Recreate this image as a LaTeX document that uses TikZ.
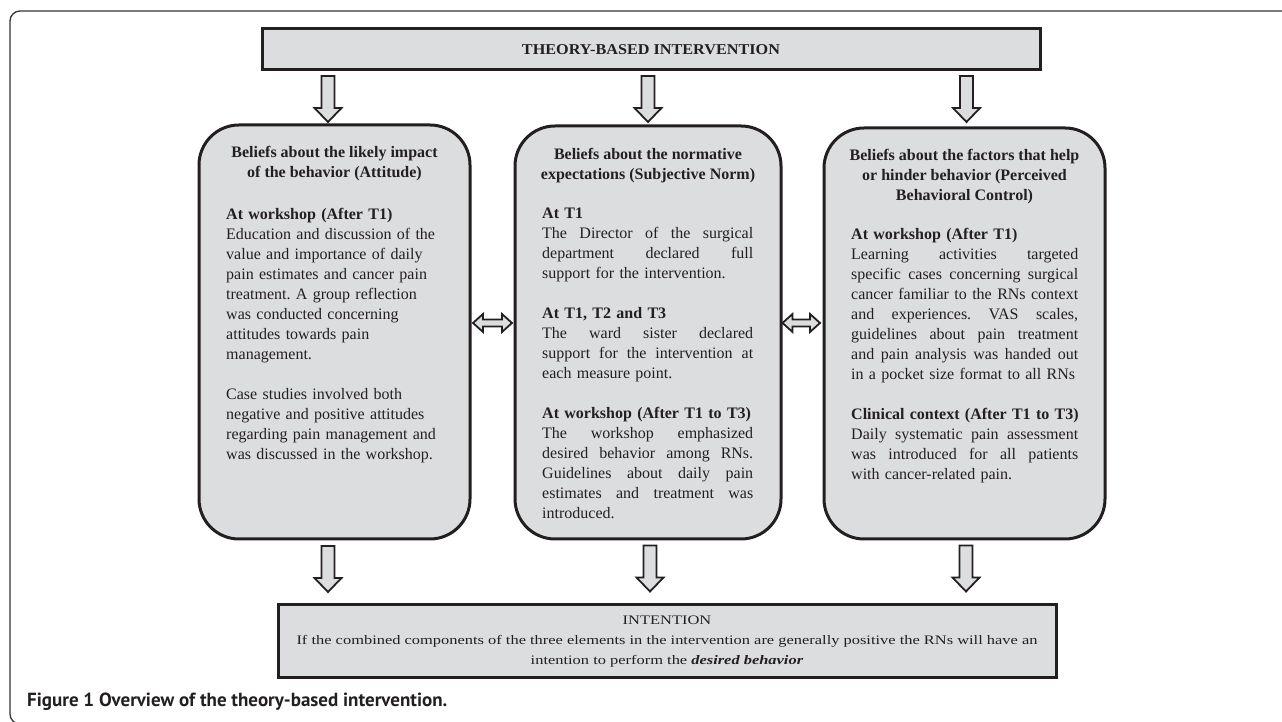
\documentclass[tikz,border=0pt]{standalone}
\usepackage{fontspec}
\setmainfont{Liberation Serif}
\setsansfont{PT Sans}
\usepackage{graphicx}
\usetikzlibrary{calc}
\frenchspacing
\definecolor{boxfill}{HTML}{DCDDDF}
\definecolor{ink}{HTML}{231F20}
\definecolor{framec}{HTML}{333333}
\newcommand{\jline}[2]{\leavevmode\hbox to #1{\spaceskip=0.25em plus 10em\relax #2}\\}
\newcommand{\rline}[1]{\mbox{#1}\\}
\newcommand{\DownArr}[2]{%
  \filldraw[arr] let \p1=#1 in
  (\x1-6.5pt,\y1) -- (\x1+6.5pt,\y1) -- (\x1+6.5pt,\y1-#2pt+14pt) -- (\x1+13.5pt,\y1-#2pt+14pt)
  -- (\x1,\y1-#2pt) -- (\x1-13.5pt,\y1-#2pt+14pt) -- (\x1-6.5pt,\y1-#2pt+14pt) -- cycle;}
\newcommand{\DblArr}[2]{%
  \filldraw[arr] let \p1=#1, \p2=#2 in
  (\x1,\y1) -- (\x1+10pt,\y1+9pt) -- (\x1+10pt,\y1+3.5pt) -- (\x2-10pt,\y1+3.5pt) -- (\x2-10pt,\y1+9pt)
  -- (\x2,\y1) -- (\x2-10pt,\y1-9pt) -- (\x2-10pt,\y1-3.5pt) -- (\x1+10pt,\y1-3.5pt) -- (\x1+10pt,\y1-9pt) -- cycle;}
\tikzset{
  bigbox/.style={draw=ink, fill=boxfill, line width=3pt, rounded corners=40pt, inner sep=0pt},
  flatbox/.style={draw=ink, fill=boxfill, line width=3pt, inner sep=0pt},
  arr/.style={draw=ink, fill=boxfill, line width=1.8pt, line join=miter},
  headtxt/.style={align=center, font=\fontsize{16}{20}\selectfont\bfseries, inner sep=0pt, text=ink, anchor=north},
  bodytxt/.style={text width=#1, align=left, font=\fontsize{16}{20}\selectfont, inner sep=0pt, text=ink, anchor=north west},
}
\newlength\lineTwoW
\newcommand{\intentline}{If the combined components of the three elements in the intervention are generally positive the RNs will have an}
\begin{document}
\begin{tikzpicture}[x=1pt,y=1pt]
\useasboundingbox (0,0) rectangle (1282,722);
\begin{scope}
  \clip (0,0) rectangle (1282,722);
  \draw[framec, line width=1.3pt, rounded corners=10pt] (10,-2) rectangle (1300,711);
\end{scope}
% boxes
\node[flatbox, minimum width=778, minimum height=41, font=\fontsize{15}{15}\selectfont\bfseries, text=ink] (top) at (651,672.5) {\resizebox{258pt}{\height}{THEORY-BASED INTERVENTION}};
\node[bigbox, minimum width=271, minimum height=414] (lb) at (334.5,390) {};
\node[bigbox, minimum width=266, minimum height=413] (mb) at (648,389.5) {};
\node[bigbox, minimum width=281, minimum height=411] (rb) at (964.5,388.5) {};
\node[flatbox, minimum width=778, minimum height=73, align=center, font=\fontsize{13}{20}\selectfont, text=ink] (bot) at (667,80.5)
 {\settowidth\lineTwoW{\intentline}\pgfmathparse{741/\lineTwoW}\xdef\sx{\pgfmathresult}%
  \scalebox{\sx}[1]{INTENTION}\\
  \scalebox{\sx}[1]{\intentline}\\
  \scalebox{\sx}[1]{intention to perform the \textbf{\textit{desired behavior}}}};
% left box text
\node[headtxt] (lh) at (334.5,576) {Beliefs about the likely impact\\of the behavior (Attitude)};
\node[bodytxt=210pt] (lt) at (226,514) {%
\rline{\bfseries At workshop (After T1)}
\rline{Education and discussion of the}
\rline{value and importance of daily}
\rline{pain estimates and cancer pain}
\rline{treatment. A group reflection}
\rline{was conducted concerning}
\rline{attitudes towards pain}
\mbox{management.}\\[20pt]
\rline{Case studies involved both}
\rline{negative and positive attitudes}
\rline{regarding pain management and}
\mbox{was discussed in the workshop.}};
% middle box text
\node[headtxt] (mh) at (648,574) {Beliefs about the normative\\expectations (Subjective Norm)};
\node[bodytxt=211pt] (mt) at (542,514) {%
\rline{\bfseries At T1}
\jline{211pt}{The Director of the surgical}
\jline{211pt}{department declared full}
\mbox{support for the intervention.}\\[20pt]
\rline{\bfseries At T1, T2 and T3}
\jline{211pt}{The ward sister declared}
\jline{211pt}{support for the intervention at}
\mbox{each measure point.}\\[20pt]
\rline{\bfseries At workshop (After T1 to T3)}
\jline{211pt}{The workshop emphasized}
\jline{211pt}{desired behavior among RNs.}
\jline{211pt}{Guidelines about daily pain}
\jline{211pt}{estimates and treatment was}
\mbox{introduced.}};
% right box text
\node[headtxt] (rh) at (964.5,573) {Beliefs about the factors that help\\or hinder behavior (Perceived\\Behavioral Control)};
\node[bodytxt=227pt] (rt) at (851,494) {%
\rline{\bfseries At workshop (After T1)}
\jline{227pt}{Learning activities targeted}
\jline{227pt}{specific cases concerning surgical}
\jline{227pt}{cancer familiar to the RNs context}
\jline{227pt}{and experiences. VAS scales,}
\jline{227pt}{guidelines about pain treatment}
\jline{227pt}{and pain analysis was handed out}
\mbox{in a pocket size format to all RNs}\\[20pt]
\rline{\bfseries Clinical context (After T1 to T3)}
\jline{227pt}{Daily systematic pain assessment}
\jline{227pt}{was introduced for all patients}
\mbox{with cancer-related pain.}};
% arrows top -> boxes
\DownArr{($(top.south -| lb.north)+(-6.5,-4.5)$)}{46}
\DownArr{($(top.south -| mb.north)+(0,-4.5)$)}{46}
\DownArr{($(top.south -| rb.north)+(2,-4.5)$)}{46}
% arrows boxes -> bottom
\DownArr{($(lb.south)+(-6.5,-5.5)$)}{46}
\DownArr{($(mb.south)+(2,-5)$)}{46}
\DownArr{($(rb.south)+(1.5,-5)$)}{46}
% double arrows
\DblArr{($(lb.east)+(1.5,9)$)}{($(mb.west)+(-1.5,9.5)$)}
\DblArr{($(mb.east)+(0,9.5)$)}{($(rb.west)+(-2.5,10.5)$)}
% caption
\node[anchor=base west, inner sep=0pt, text=ink, font=\fontsize{19}{22}\selectfont\sffamily\bfseries] (cap) at (27,15) {Figure 1 Overview of the theory-based intervention.};
\end{tikzpicture}
\end{document}
